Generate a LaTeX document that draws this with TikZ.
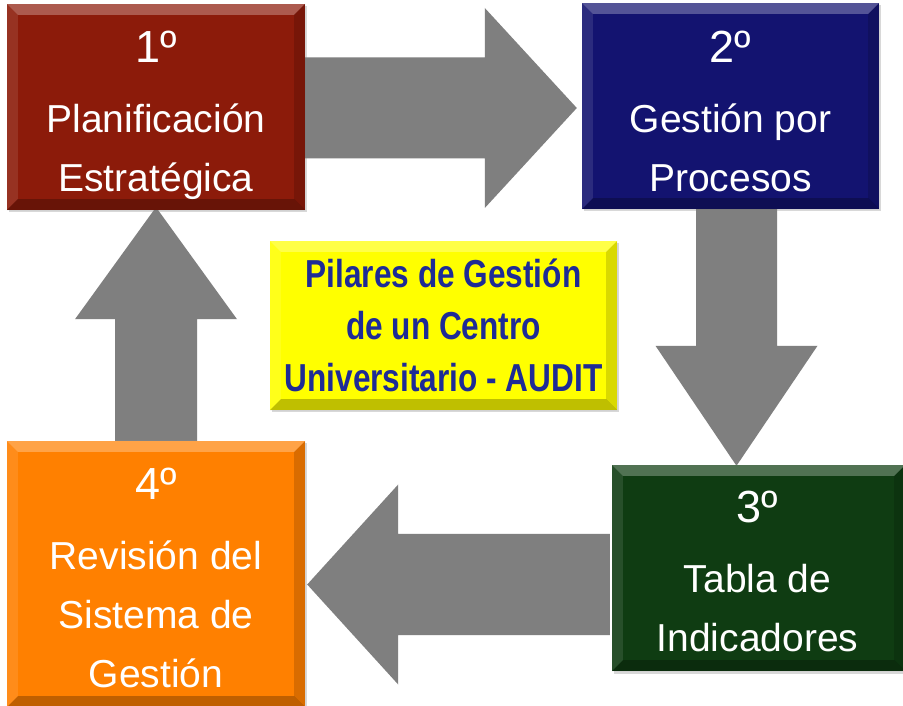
\documentclass[tikz,border=0pt]{standalone}
\usepackage{fontspec}
\setmainfont{Liberation Sans}
\newfontfamily\yfont{Liberation Sans}[FakeStretch=0.81]
\usetikzlibrary{calc,backgrounds,shadows}
\definecolor{cred}{HTML}{8C1B0A}
\definecolor{cblue}{HTML}{131370}
\definecolor{cgreen}{HTML}{0F3C12}
\definecolor{corange}{HTML}{FF8000}
\definecolor{cyellow}{HTML}{FFFF00}
\definecolor{tblue}{HTML}{1E2B96}
\definecolor{agray}{HTML}{7F7F7F}
\newcommand\bevelbox[1]{%
  \fill[white,fill opacity=0.28] (#1.north west) -- (#1.north east) -- ($(#1.north east)+(-11pt,-11pt)$) -- ($(#1.north west)+(11pt,-11pt)$) -- cycle;
  \fill[white,fill opacity=0.10] (#1.north west) -- ($(#1.north west)+(11pt,-11pt)$) -- ($(#1.south west)+(11pt,11pt)$) -- (#1.south west) -- cycle;
  \fill[black,fill opacity=0.15] (#1.north east) -- ($(#1.north east)+(-11pt,-11pt)$) -- ($(#1.south east)+(-11pt,11pt)$) -- (#1.south east) -- cycle;
  \fill[black,fill opacity=0.25] (#1.south west) -- ($(#1.south west)+(11pt,11pt)$) -- ($(#1.south east)+(-11pt,11pt)$) -- (#1.south east) -- cycle;}
\begin{document}
\begin{tikzpicture}[x=1pt,y=1pt,
  boxnode/.style={rectangle, inner sep=0pt, draw=none,
    drop shadow={shadow xshift=1.5pt, shadow yshift=-2.5pt, opacity=0.3}},
  lbl/.style={text=white, align=center, inner sep=0pt,
    font=\fontsize{39}{59}\selectfont},
  blockarrow/.style={fill=agray}]
\useasboundingbox (0,0) rectangle (903,705);

% boxes
\node[boxnode, fill=cred, minimum width=298pt, minimum height=206pt] (b1) at (156,598) {};
\bevelbox{b1}
\node[boxnode, fill=cblue, minimum width=297pt, minimum height=206pt] (b2) at (730.5,599) {};
\bevelbox{b2}
\node[boxnode, fill=cgreen, minimum width=293pt, minimum height=206pt] (b3) at (758.5,137) {};
\bevelbox{b3}
\node[boxnode, fill=corange, minimum width=298pt, minimum height=266pt] (b4) at (156,131) {};
\bevelbox{b4}
\node[boxnode, fill=cyellow, minimum width=347pt, minimum height=169pt] (c) at (443.5,379.5) {};
\bevelbox{c}

% labels
\node[lbl, anchor=north] (t1) at ($(b1.north)+(0,-27pt)$)
  {{\fontsize{45}{50}\selectfont 1º}\\[11pt] Planificación\\ Estratégica};
\node[lbl, anchor=north] (t2) at ($(b2.north)+(0,-28pt)$)
  {{\fontsize{45}{50}\selectfont 2º}\\[11pt] Gestión por\\ Procesos};
\node[lbl, anchor=north] (t3) at ($(b3.north)+(-1pt,-26pt)$)
  {{\fontsize{45}{50}\selectfont 3º}\\[11pt] Tabla de\\ Indicadores};
\node[lbl, anchor=north] (t4) at ($(b4.north)+(0,-27pt)$)
  {{\fontsize{45}{50}\selectfont 4º}\\[11pt] Revisión del\\ Sistema de\\ Gestión};
\node[text=tblue, align=center, inner sep=0pt,
  font=\yfont\bfseries\fontsize{39}{52}\selectfont] (tc) at (c.center)
  {Pilares de Gestión\\ de un Centro\\ Universitario - AUDIT};

% block arrows (behind the boxes)
\begin{pgfonlayer}{background}
\fill[white] (0,0) rectangle (903,705);
\fill[blockarrow] let \p1=(b1.east), \p2=(b2.west) in
  (\x1,\y1+49.5pt) -- (\x2-97pt,\y1+49.5pt) -- (\x2-97pt,\y1+99pt) -- (\x2-5pt,\y1-1pt)
  -- (\x2-97pt,\y1-101pt) -- (\x2-97pt,\y1-51.5pt) -- (\x1,\y1-51.5pt) -- cycle;
\fill[blockarrow] let \p1=(b2.south), \p2=(b3.north) in
  (\x1+6pt-40.5pt,\y1) -- (\x1+6pt-40.5pt,\y2+119pt) -- (\x1+6pt-81pt,\y2+119pt) -- (\x1+6pt,\y2-1pt)
  -- (\x1+6pt+81pt,\y2+119pt) -- (\x1+6pt+40.5pt,\y2+119pt) -- (\x1+6pt+40.5pt,\y1) -- cycle;
\fill[blockarrow] let \p1=(b3.west), \p2=(b4.east) in
  (\x1-2pt,171pt) -- (\x2+93pt,171pt) -- (\x2+93pt,220.5pt) -- (\x2+2pt,120.5pt)
  -- (\x2+93pt,20.5pt) -- (\x2+93pt,70pt) -- (\x1-2pt,70pt) -- cycle;
\fill[blockarrow] let \p1=(b4.north), \p2=(b1.south) in
  (\x1-41pt,\y1) -- (\x1-41pt,\y2-109pt) -- (\x1-81pt,\y2-109pt) -- (\x1,\y2+3pt)
  -- (\x1+81pt,\y2-109pt) -- (\x1+41pt,\y2-109pt) -- (\x1+41pt,\y1) -- cycle;
\end{pgfonlayer}
\end{tikzpicture}
\end{document}
